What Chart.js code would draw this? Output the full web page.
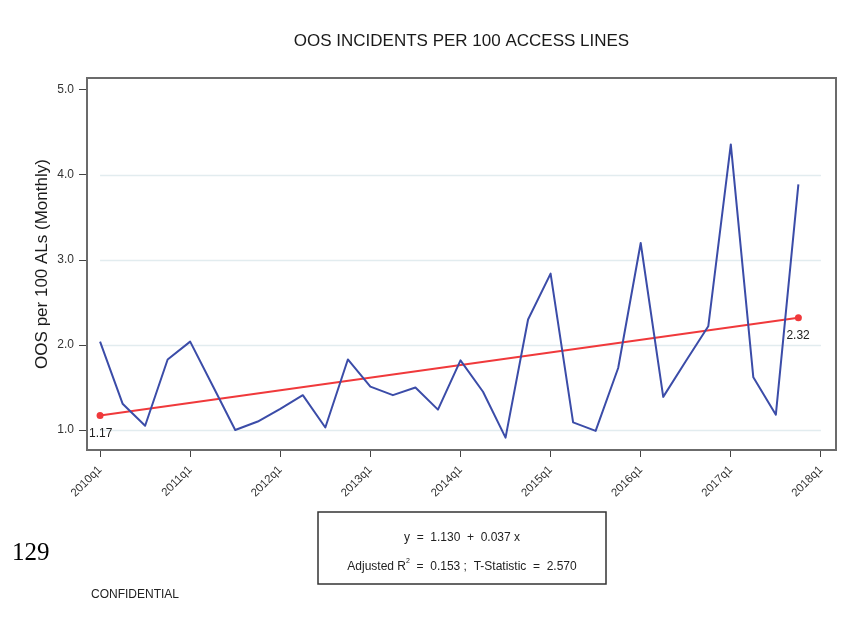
<!DOCTYPE html>
<html>
<head>
<meta charset="utf-8">
<script src="https://cdn.jsdelivr.net/npm/chart.js@4/dist/chart.umd.min.js"></script>
<style>
  html, body { margin: 0; padding: 0; background: #fff; }
  #wrap { width: 845px; height: 626px; }
</style>
</head>
<body>
<div id="wrap"><canvas id="c" width="845" height="626"></canvas></div>
<script>
// Quarterly OOS incidents per 100 access lines (monthly rate)
const quarters = [
  '2010q1','2010q2','2010q3','2010q4','2011q1','2011q2','2011q3','2011q4',
  '2012q1','2012q2','2012q3','2012q4','2013q1','2013q2','2013q3','2013q4',
  '2014q1','2014q2','2014q3','2014q4','2015q1','2015q2','2015q3','2015q4',
  '2016q1','2016q2','2016q3','2016q4','2017q1','2017q2','2017q3','2017q4'
];
const oosRate = [
  2.04, 1.31, 1.05, 1.83, 2.04, 1.52, 1.00, 1.10,
  1.25, 1.41, 1.03, 1.83, 1.51, 1.41, 1.50, 1.24,
  1.82, 1.45, 0.91, 2.30, 2.84, 1.09, 0.99, 1.73,
  3.20, 1.39, 1.81, 2.22, 4.36, 1.62, 1.18, 3.89
];
// Fitted trend at the first and last quarter
const trendEnds = [1.17, 2.32];
const xTickLabels = ['2010q1','2011q1','2012q1','2013q1','2014q1','2015q1','2016q1','2017q1','2018q1'];
const yTickValues = [1.0, 2.0, 3.0, 4.0, 5.0];
const gridValues = [1.0, 2.0, 3.0, 4.0];
const titleText = 'OOS INCIDENTS PER 100 ACCESS LINES';
const yTitleText = 'OOS per 100 ALs (Monthly)';
const fitEquation = 'y  =  1.130  +  0.037 x';
const fitStats = ['Adjusted R', '  =  0.153 ;  T-Statistic  =  2.570'];
const pageNumber = '129';
const footerText = 'CONFIDENTIAL';

const SANS = '"Liberation Sans", Arial, sans-serif';
const BLUE = '#3b4ca8';
const RED = '#f0393b';

const decor = {
  id: 'decor',
  beforeDatasetsDraw(chart) {
    const { ctx, scales: { x, y } } = chart;
    ctx.save();
    ctx.strokeStyle = '#e2ecef';
    ctx.lineWidth = 1.5;
    const x0 = x.getPixelForValue(0);
    const x1 = x.getPixelForValue(32);
    gridValues.forEach(v => {
      const py = Math.round(y.getPixelForValue(v)) + 0.5;
      ctx.beginPath();
      ctx.moveTo(x0, py);
      ctx.lineTo(x1, py);
      ctx.stroke();
    });
    ctx.restore();
  },
  afterDatasetsDraw(chart) {
    const { ctx, chartArea: a, scales: { x, y } } = chart;
    ctx.save();
    // plot frame
    ctx.strokeStyle = '#6b6b6b';
    ctx.lineWidth = 2;
    ctx.strokeRect(a.left, a.top, a.right - a.left, a.bottom - a.top);

    // trend end labels
    ctx.fillStyle = '#222';
    ctx.font = '12px ' + SANS;
    ctx.textBaseline = 'middle';
    ctx.textAlign = 'left';
    ctx.fillText(trendEnds[0].toFixed(2), x.getPixelForValue(0) - 11, y.getPixelForValue(trendEnds[0]) + 18);
    ctx.fillText(trendEnds[1].toFixed(2), x.getPixelForValue(quarters.length - 1) - 12, y.getPixelForValue(trendEnds[1]) + 18);

    // chart title
    ctx.textAlign = 'center';
    ctx.fillStyle = '#1a1a1a';
    ctx.font = '17px ' + SANS;
    ctx.fillText(titleText, (a.left + a.right) / 2, 41);

    // y axis title
    ctx.save();
    ctx.translate(42, (a.top + a.bottom) / 2);
    ctx.rotate(-Math.PI / 2);
    ctx.font = '17px ' + SANS;
    ctx.fillText(yTitleText, 0, 0);
    ctx.restore();

    // regression box
    const bx = 318, by = 512, bw = 288, bh = 72;
    ctx.strokeStyle = '#333';
    ctx.lineWidth = 1.5;
    ctx.strokeRect(bx, by, bw, bh);
    ctx.fillStyle = '#222';
    ctx.font = '12px ' + SANS;
    ctx.textAlign = 'center';
    ctx.fillText(fitEquation, bx + bw / 2, 538);
    const wA = ctx.measureText(fitStats[0]).width;
    const wB = ctx.measureText(fitStats[1]).width;
    ctx.font = '7px ' + SANS;
    const wS = ctx.measureText('2').width;
    const startX = bx + bw / 2 - (wA + wS + wB) / 2;
    ctx.textAlign = 'left';
    ctx.font = '12px ' + SANS;
    ctx.fillText(fitStats[0], startX, 567);
    ctx.font = '7px ' + SANS;
    ctx.fillText('2', startX + wA, 561);
    ctx.font = '12px ' + SANS;
    ctx.fillText(fitStats[1], startX + wA + wS, 567);

    // page number and footer
    ctx.fillStyle = '#000';
    ctx.font = '25px "Liberation Serif", "Times New Roman", serif';
    ctx.textBaseline = 'alphabetic';
    ctx.fillText(pageNumber, 12, 560);
    ctx.fillStyle = '#222';
    ctx.font = '12px ' + SANS;
    ctx.fillText(footerText, 91, 598);
    ctx.restore();
  }
};

new Chart(document.getElementById('c'), {
  type: 'line',
  data: {
    datasets: [
      {
        label: 'OOS per 100 ALs',
        data: oosRate.map((v, i) => ({ x: i, y: v })),
        borderColor: BLUE,
        borderWidth: 2,
        borderJoinStyle: 'round',
        pointRadius: 0,
        tension: 0
      },
      {
        label: 'Trend',
        data: [
          { x: 0, y: trendEnds[0] },
          { x: quarters.length - 1, y: trendEnds[1] }
        ],
        borderColor: RED,
        backgroundColor: RED,
        borderWidth: 2,
        pointRadius: 3.5,
        pointBorderWidth: 0,
        pointBackgroundColor: RED,
        tension: 0
      }
    ]
  },
  options: {
    responsive: false,
    animation: false,
    devicePixelRatio: 1,
    layout: { padding: { left: 0, top: 78, right: 9, bottom: 0 } },
    plugins: { legend: { display: false }, tooltip: { enabled: false }, title: { display: false } },
    scales: {
      x: {
        type: 'linear',
        min: -0.58,
        max: 32.67,
        afterBuildTicks: s => { s.ticks = xTickLabels.map((t, i) => ({ value: i * 4 })); },
        afterFit: s => { s.height = 176; },
        ticks: {
          autoSkip: false,
          maxRotation: 45,
          minRotation: 45,
          padding: 6,
          color: '#333',
          font: { size: 11.5, family: SANS },
          callback: (v, i) => xTickLabels[i]
        },
        grid: { drawOnChartArea: false, drawTicks: true, tickLength: 7, color: '#444', lineWidth: 1 },
        border: { display: false }
      },
      y: {
        min: 0.765,
        max: 5.141,
        afterBuildTicks: s => { s.ticks = yTickValues.map(v => ({ value: v })); },
        afterFit: s => { s.width = 87; },
        ticks: {
          padding: 5,
          color: '#333',
          font: { size: 12, family: SANS },
          callback: v => Number(v).toFixed(1)
        },
        grid: { drawOnChartArea: false, drawTicks: true, tickLength: 8, color: '#444', lineWidth: 1 },
        border: { display: false }
      }
    }
  },
  plugins: [decor]
});
</script>
</body>
</html>
